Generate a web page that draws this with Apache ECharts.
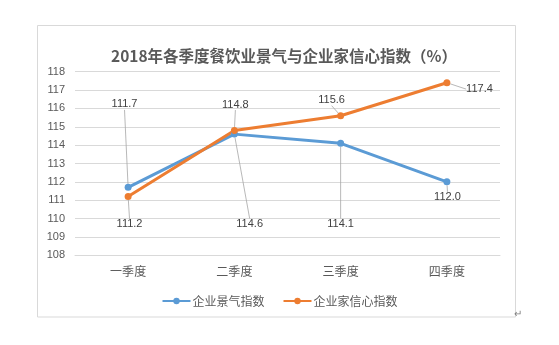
<!DOCTYPE html>
<html><head><meta charset="utf-8">
<script src="https://cdn.jsdelivr.net/npm/echarts@6/dist/echarts.min.js"></script>
<style>html,body{margin:0;padding:0;background:#fff}#c{width:559px;height:345px}</style>
</head><body><div id="c"></div>
<script>
const titleText = '2018年各季度餐饮业景气与企业家信心指数（%）';
const categories = ['一季度', '二季度', '三季度', '四季度'];
const seriesNames = ['企业景气指数', '企业家信心指数'];
const businessIndex = [111.7, 114.6, 114.1, 112.0];
const confidenceIndex = [111.2, 114.8, 115.6, 117.4];
const yMin = 108, yMax = 118, yStep = 1;

// label offsets (layout only)
const blueOffsets = [[-3.6, -83], [15.3, 90], [0, 80.7], [0.6, 15.4]];
const orangeOffsets = [[1.4, 27.7], [1, -25.9], [-9, -15.6], [32.6, 6.4]];

const FONT = '"Noto Sans CJK SC", "Liberation Sans", sans-serif';
const chart = echarts.init(document.getElementById('c'), null, {renderer: 'canvas'});

function mkSeries(name, data, color, offsets) {
  return {
    name: name, type: 'line', data: data,
    symbol: 'circle', symbolSize: 7,
    lineStyle: {color: color, width: 3},
    itemStyle: {color: color},
    label: {
      show: true, position: 'inside', color: '#404040', fontSize: 11,
      fontFamily: '"Liberation Sans", sans-serif',
      formatter: p => Number(p.value).toFixed(1)
    },
    labelLine: {show: true, lineStyle: {color: '#A6A6A6', width: 0.8}},
    labelLayout: p => ({dx: offsets[p.dataIndex][0], dy: offsets[p.dataIndex][1]}),
    emphasis: {disabled: true},
    z: 3
  };
}

chart.setOption({
  animation: false,
  backgroundColor: '#fff',
  title: {
    text: titleText, left: 279, top: 43, textAlign: 'center',
    textStyle: {fontSize: 15.5, fontWeight: 'bold', color: '#595959', fontFamily: FONT}
  },
  graphic: [
    {type: 'rect', shape: {x: 37.5, y: 25.5, width: 478, height: 291.5}, style: {fill: 'none', stroke: '#D9D9D9', lineWidth: 1}, silent: true},
    {type: 'text', left: 514, top: 309, style: {text: '↵', fill: '#808080', fontSize: 10}}
  ],
  legend: {
    data: seriesNames, left: 'center', top: 290,
    itemWidth: 28, itemHeight: 8, itemGap: 18,
    textStyle: {fontSize: 12, color: '#595959', fontFamily: FONT, padding: [0, 0, 0, -3]}
  },
  grid: {left: 75, right: 59, top: 71.7, bottom: 89.7},
  xAxis: {
    type: 'category', data: categories, boundaryGap: true,
    axisLine: {show: true, lineStyle: {color: '#D9D9D9'}},
    axisTick: {show: false},
    axisLabel: {fontSize: 12, color: '#595959', fontFamily: FONT, margin: 10}
  },
  yAxis: {
    type: 'value', min: yMin, max: yMax, interval: yStep,
    axisLine: {show: false}, axisTick: {show: false},
    splitLine: {lineStyle: {color: '#D9D9D9'}},
    axisLabel: {fontSize: 11, color: '#595959', fontFamily: '"Liberation Sans", sans-serif', margin: 10}
  },
  series: [
    mkSeries(seriesNames[0], businessIndex, '#5B9BD5', blueOffsets),
    mkSeries(seriesNames[1], confidenceIndex, '#ED7D31', orangeOffsets)
  ]
});
</script></body></html>
